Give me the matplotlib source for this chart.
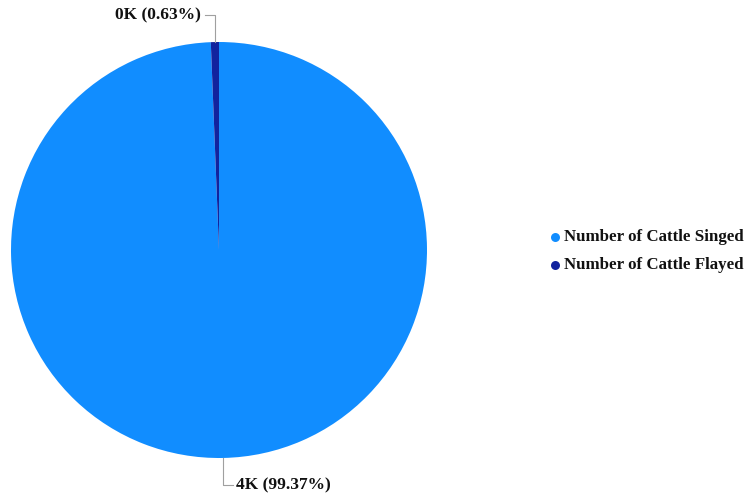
import matplotlib
matplotlib.use("Agg")
import matplotlib.pyplot as plt
import numpy as np

categories = ["Number of Cattle Singed", "Number of Cattle Flayed"]
counts = [3947, 25]
colors = ["#118DFF", "#12239E"]

W, H = 749, 495
fig = plt.figure(figsize=(W / 100, H / 100), dpi=100)
ax = fig.add_axes([0, 0, 1, 1])

cx, cy, r = 219, H - 250, 208
wedges, _ = ax.pie(counts, colors=colors, startangle=90, counterclock=False,
                   center=(cx, cy), radius=r, frame=True,
                   wedgeprops=dict(linewidth=0))
ax.set_xlim(0, W)
ax.set_ylim(0, H)
ax.set_aspect("equal")
ax.axis("off")

font = dict(family="Liberation Serif", weight="bold", size=12.5)
total = sum(counts)
line_col = "#A0A0A0"
text_col = "#111111"
for w, v in zip(wedges, counts):
    mid = np.deg2rad((w.theta1 + w.theta2) / 2)
    x0 = cx + r * np.cos(mid)
    y0 = cy + r * np.sin(mid)
    label = f"{round(v / 1000):.0f}K ({v / total * 100:.2f}%)"
    if y0 > cy:
        y1 = H - 15
        ax.plot([x0, x0, x0 - 10], [y0, y1, y1], color=line_col, lw=0.8)
        ax.text(x0 - 14, y1, label, ha="right", va="center", color=text_col, **font)
    else:
        y1 = H - 485
        ax.plot([x0, x0, x0 + 10], [y0, y1, y1], color=line_col, lw=0.8)
        ax.text(x0 + 13, y1, label, ha="left", va="center", color=text_col, **font)

# legend
legend_font = dict(font, size=12.2)
for i, (name, c) in enumerate(zip(categories, colors)):
    ly = H - (237 + 28 * i)
    ax.scatter([555], [ly], s=42, color=c, zorder=3, linewidths=0)
    ax.text(564, ly, name, ha="left", va="center", color=text_col, **legend_font)

fig.savefig("out.png", dpi=100)
